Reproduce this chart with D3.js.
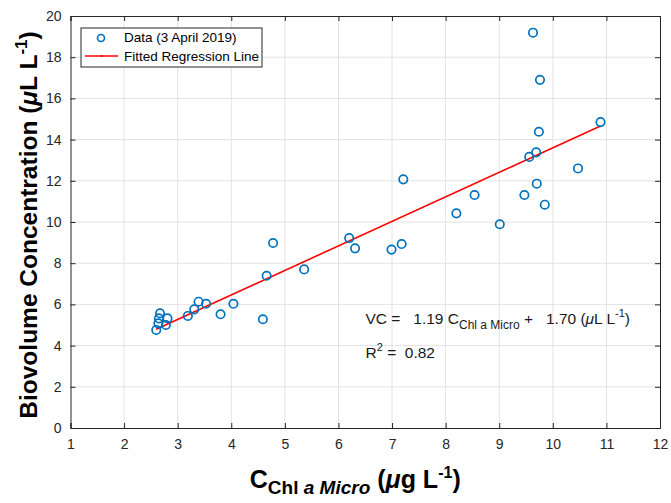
<!DOCTYPE html>
<html>
<head>
<meta charset="utf-8">
<script src="https://d3js.org/d3.v7.min.js"></script>
<style>
  body { margin: 0; background: #fff; }
  text { font-family: "Liberation Sans", Arial, sans-serif; }
  .tick text { fill: #262626; font-size: 14px; }
  .grid line { stroke: #e3e3e3; }
  .axis-label { font-weight: bold; fill: #000; }
</style>
</head>
<body>
<div id="chart"></div>
<script>
// data
const chlA = [2.60, 2.64, 2.65, 2.67, 2.78, 2.81, 3.19, 3.31, 3.39, 3.53, 3.80, 4.04, 4.59, 4.66, 4.78,
              5.36, 6.20, 6.31, 6.99, 7.18, 7.21, 8.20, 8.54, 9.01, 9.47, 9.56, 9.63, 9.69, 9.70, 9.76,
              9.74, 9.85, 10.47, 10.89];
const biovol = [4.76, 5.08, 5.32, 5.57, 5.00, 5.32, 5.44, 5.76, 6.13, 6.03, 5.52, 6.03, 5.28, 7.39, 8.98,
                7.70, 9.22, 8.72, 8.66, 8.93, 12.07, 10.42, 11.31, 9.89, 11.31, 13.16, 19.19, 13.38, 11.86, 16.9,
                14.38, 10.84, 12.6, 14.85];
const slope = 1.19, intercept = 1.70;
const xTicks = d3.range(1, 13);
const yTicks = d3.range(0, 21, 2);

const W = 671, H = 503;
const margin = { left: 70.5, right: 11, top: 16, bottom: 75 };
const innerW = W - margin.left - margin.right;
const innerH = H - margin.top - margin.bottom;

const svg = d3.select('#chart').append('svg').attr('width', W).attr('height', H);
const g = svg.append('g').attr('transform', `translate(${margin.left},${margin.top})`);

const x = d3.scaleLinear().domain([1, 12]).range([0, innerW]);
const y = d3.scaleLinear().domain([0, 20]).range([innerH, 0]);

// grid
const grid = g.append('g').attr('class', 'grid');
grid.selectAll('.gx').data(xTicks.slice(1, -1)).enter().append('line')
  .attr('x1', d => x(d)).attr('x2', d => x(d)).attr('y1', 0).attr('y2', innerH);
grid.selectAll('.gy').data(yTicks.slice(1, -1)).enter().append('line')
  .attr('y1', d => y(d)).attr('y2', d => y(d)).attr('x1', 0).attr('x2', innerW);

// axes, ticks pointing in
g.append('g').attr('transform', `translate(0,${innerH})`)
  .call(d3.axisBottom(x).tickValues(xTicks).tickSize(-5).tickPadding(11).tickFormat(d3.format('d')));
g.append('g')
  .call(d3.axisLeft(y).tickValues(yTicks).tickSize(-5).tickPadding(9).tickFormat(d3.format('d')));
g.append('g').call(d3.axisTop(x).tickValues(xTicks).tickSize(-5).tickFormat(''));
g.append('g').attr('transform', `translate(${innerW},0)`)
  .call(d3.axisRight(y).tickValues(yTicks).tickSize(-5).tickFormat(''));
g.selectAll('.domain').attr('stroke', '#262626');
g.selectAll('.tick line').attr('stroke', '#262626');

// regression line
const xr = d3.extent(chlA);
g.append('path')
  .datum(xr)
  .attr('fill', 'none').attr('stroke', '#ff0000').attr('stroke-width', 1.6)
  .attr('d', d3.line().x(d => x(d)).y(d => y(slope * d + intercept)));

// data points
g.selectAll('circle.pt').data(chlA).enter().append('circle')
  .attr('class', 'pt')
  .attr('cx', d => x(d))
  .attr('cy', (d, i) => y(biovol[i]))
  .attr('r', 4.2)
  .attr('fill', 'none')
  .attr('stroke', '#0072bd')
  .attr('stroke-width', 1.7);

// legend
const lg = g.append('g').attr('transform', 'translate(10.5,12)');
lg.append('rect').attr('width', 181).attr('height', 39)
  .attr('fill', '#fff').attr('stroke', '#262626').attr('stroke-width', 1);
lg.append('circle').attr('cx', 20).attr('cy', 10).attr('r', 3.5)
  .attr('fill', 'none').attr('stroke', '#0072bd').attr('stroke-width', 1.7);
lg.append('line').attr('x1', 4).attr('x2', 37).attr('y1', 28).attr('y2', 28)
  .attr('stroke', '#ff0000').attr('stroke-width', 1.3);
lg.append('circle').attr('cx', 20.5).attr('cy', 28).attr('r', 1).attr('fill', '#ff0000');
lg.append('text').attr('x', 43).attr('y', 14).attr('font-size', 13.5).attr('fill', '#000').text('Data (3 April 2019)');
lg.append('text').attr('x', 43).attr('y', 32.5).attr('font-size', 13.5).attr('fill', '#000').text('Fitted Regression Line');

// equation annotation
const eq = g.append('text').attr('x', 295).attr('y', 308).attr('font-size', 15.5).attr('fill', '#1a1a1a')
  .attr('xml:space', 'preserve');
eq.append('tspan').text('VC =   1.19 C');
eq.append('tspan').attr('font-size', 12).attr('dy', 5).text('Chl a Micro');
eq.append('tspan').attr('dy', -5).text(' +   1.70 (');
eq.append('tspan').attr('font-style', 'italic').text('μ');
eq.append('tspan').text('L L');
eq.append('tspan').attr('font-size', 11).attr('dy', -7).text('-1');
eq.append('tspan').attr('dy', 7).text(')');

const r2 = g.append('text').attr('x', 295).attr('y', 342).attr('font-size', 15.5).attr('fill', '#1a1a1a')
  .attr('xml:space', 'preserve');
r2.append('tspan').text('R');
r2.append('tspan').attr('font-size', 11).attr('dy', -7).text('2');
r2.append('tspan').attr('dy', 7).text(' =  0.82');

// x label
const xl = svg.append('text').attr('class', 'axis-label')
  .attr('x', margin.left + innerW / 2 - 10).attr('y', 488).attr('text-anchor', 'middle').attr('font-size', 25);
xl.append('tspan').text('C');
xl.append('tspan').attr('font-size', 19).attr('dy', 6).text('Chl ');
xl.append('tspan').attr('font-size', 19).attr('font-style', 'italic').text('a Micro');
xl.append('tspan').attr('dy', -6).text(' (');
xl.append('tspan').attr('font-style', 'italic').text('μ');
xl.append('tspan').text('g L');
xl.append('tspan').attr('font-size', 16).attr('dy', -10).text('-1');
xl.append('tspan').attr('dy', 10).text(')');

// y label
const yl = svg.append('text').attr('class', 'axis-label')
  .attr('transform', `translate(37,${margin.top + innerH / 2 + 3}) rotate(-90)`)
  .attr('text-anchor', 'middle').attr('font-size', 24.5);
yl.append('tspan').text('Biovolume Concentration (');
yl.append('tspan').attr('font-style', 'italic').text('μ');
yl.append('tspan').text('L L');
yl.append('tspan').attr('font-size', 17).attr('dy', -10).text('-1');
yl.append('tspan').attr('dy', 10).text(')');
</script>
</body>
</html>
